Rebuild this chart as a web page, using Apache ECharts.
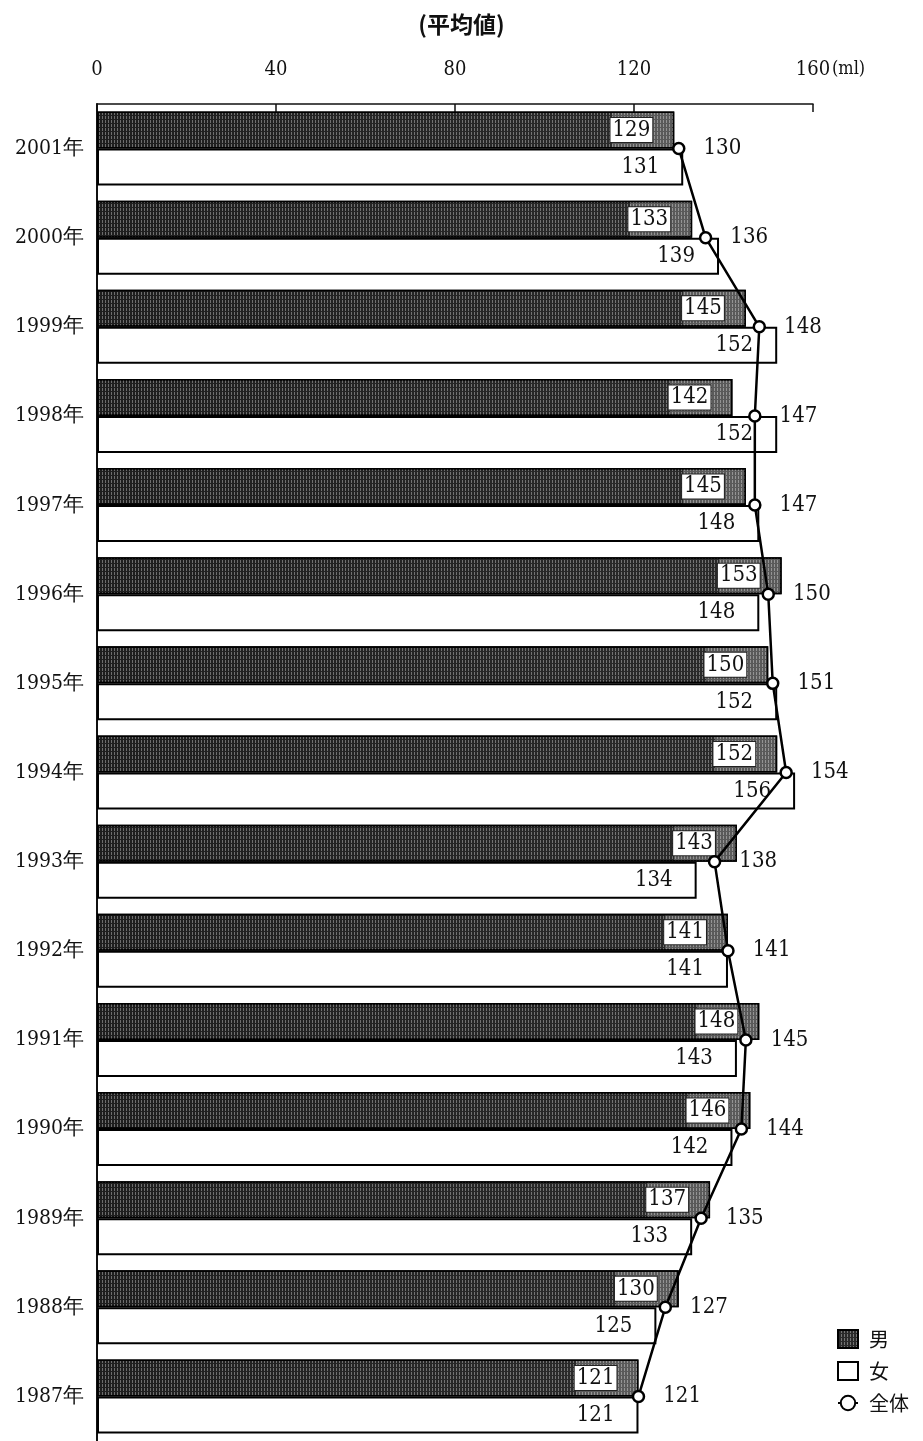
<!DOCTYPE html>
<html><head><meta charset="utf-8">
<script src="https://cdn.jsdelivr.net/npm/echarts@6/dist/echarts.min.js"></script>
<style>html,body{margin:0;padding:0;background:#fff}#c{width:923px;height:1441px}</style>
</head><body><div id="c"></div>
<script>
const years = ['2001年','2000年','1999年','1998年','1997年','1996年','1995年','1994年','1993年','1992年','1991年','1990年','1989年','1988年','1987年'];
const male   = [129,133,145,142,145,153,150,152,143,141,148,146,137,130,121];
const female = [131,139,152,152,148,148,152,156,134,141,143,142,133,125,121];
const total  = [130,136,148,147,147,150,151,154,138,141,145,144,135,127,121];
const xTicks = [0,40,80,120,160];

const serif = "'DejaVu Serif Condensed', 'Liberation Serif', serif";
const chart = echarts.init(document.getElementById('c'));
const stripe = {symbol:'rect', symbolSize:1, dashArrayX:[1,2], dashArrayY:[3,1], color:'rgba(255,255,255,0.35)'};
const maleData = male.map(v => {
  const s = Math.max(0, 1 - 14 / v);
  return {value: v, itemStyle: {color: new echarts.graphic.LinearGradient(0,0,1,0,[
    {offset:0,color:'#1e1e1e'},{offset:s,color:'#2a2a2a'},{offset:s,color:'#5a5a5a'},{offset:1,color:'#5a5a5a'}])}};
});
chart.setOption({
  animation:false,
  title:{text:'(平均値)', left:'center', top:8, textStyle:{fontFamily:"'Noto Sans CJK JP', sans-serif", fontSize:23, fontWeight:'bold', color:'#111'}},
  graphic:[{type:'text', left:832, top:60, style:{text:'(ml)', fontSize:18, fontFamily:serif, fill:'#111'}}],
  legend:{orient:'vertical', left:832, top:1324, itemWidth:20, itemHeight:18, itemGap:12,
    textStyle:{fontFamily:"'Noto Sans CJK JP', sans-serif", fontSize:20, color:'#111', padding:[0,0,0,6]},
    data:[{name:'男', icon:'rect'},{name:'女', icon:'rect'},'全体']},
  grid:{left:97, top:104, width:716, height:1341},
  xAxis:{type:'value', position:'top', min:0, max:160, interval:40,
    axisLine:{show:true, lineStyle:{color:'#111', width:1.5}},
    axisTick:{show:true, inside:true, length:8, lineStyle:{color:'#111', width:1.5}},
    splitLine:{show:false},
    axisLabel:{margin:24, fontFamily:serif, fontSize:20, color:'#111',
      formatter: v => xTicks.includes(v) ? String(v) : ''}},
  yAxis:{type:'category', inverse:true, data:years,
    axisLine:{show:true, lineStyle:{color:'#111', width:2}},
    axisTick:{show:false},
    axisLabel:{margin:13, fontFamily:serif, fontSize:21, color:'#111', padding:[10,0,0,0]}},
  series:[
    {name:'男', type:'bar', barWidth:37, barGap:'0%', data:maleData,
      itemStyle:{color:'#2a2a2a', borderColor:'#000', borderWidth:1.5, decal:stripe},
      label:{show:true, position:'insideRight', distance:22, fontFamily:serif, fontSize:22, color:'#111',
        backgroundColor:'#fff', borderColor:'#222', borderWidth:1, padding:[2,2,0,2]}},
    {name:'女', type:'bar', barWidth:37, data:female,
      itemStyle:{color:'#fff', borderColor:'#000', borderWidth:2},
      label:{show:true, position:'insideRight', distance:24, fontFamily:serif, fontSize:22, color:'#111'}},
    {name:'全体', type:'line', data:total, z:5, symbol:'circle', symbolSize:11,
      lineStyle:{color:'#000', width:2.5},
      itemStyle:{color:'#fff', borderColor:'#000', borderWidth:2.5},
      label:{show:true, position:'right', distance:18, fontFamily:serif, fontSize:22, color:'#111'}}
  ]
});
</script></body></html>
